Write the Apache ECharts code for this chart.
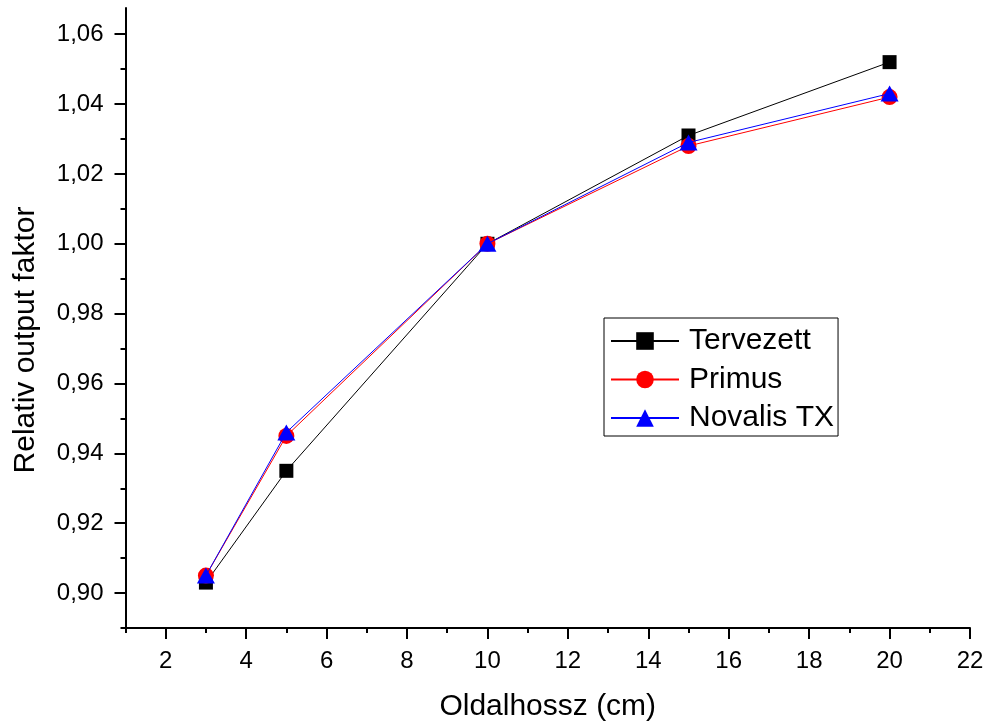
<!DOCTYPE html>
<html>
<head>
<meta charset="utf-8">
<script src="https://cdn.jsdelivr.net/npm/echarts@6/dist/echarts.min.js"></script>
<style>
  html, body { margin: 0; padding: 0; background: #fff; }
  #chart { width: 988px; height: 726px; }
</style>
</head>
<body>
<div id="chart"></div>
<script>
// Field side length (cm) and relative output factor for each machine
const fieldSizes = [3, 5, 10, 15, 20];
const tervezett = [0.903, 0.935, 1.000, 1.031, 1.052];
const primus    = [0.905, 0.945, 1.000, 1.028, 1.042];
const novalis   = [0.905, 0.946, 1.000, 1.029, 1.043];

const xMajorTicks = [2, 4, 6, 8, 10, 12, 14, 16, 18, 20, 22];
const xMinorTicks = [1, 3, 5, 7, 9, 11, 13, 15, 17, 19, 21];
const yMajorTicks = [0.90, 0.92, 0.94, 0.96, 0.98, 1.00, 1.02, 1.04, 1.06];
const yMinorTicks = [0.89, 0.91, 0.93, 0.95, 0.97, 0.99, 1.01, 1.03, 1.05];

const FONT = 'Liberation Sans, Arial, sans-serif';
const pairs = (xs, ys) => xs.map((x, i) => [x, ys[i]]);
const commaFmt = v => v.toFixed(2).replace('.', ',');

const chart = echarts.init(document.getElementById('chart'), null, { renderer: 'canvas' });

const axisLine = { show: true, lineStyle: { color: '#000', width: 2 } };

chart.setOption({
  animation: false,
  backgroundColor: '#fff',
  grid: { left: 125.5, right: 18, top: 8, bottom: 98, containLabel: false, outerBoundsMode: 'none' },
  xAxis: [
    {
      type: 'value', min: 1, max: 22,
      name: 'Oldalhossz (cm)', nameLocation: 'middle', nameGap: 64,
      nameTextStyle: { fontFamily: FONT, fontSize: 30, color: '#000' },
      axisLine,
      axisTick: { show: true, customValues: xMajorTicks, length: 11, lineStyle: { color: '#000', width: 2 } },
      axisLabel: { customValues: xMajorTicks, margin: 21, fontFamily: FONT, fontSize: 24, color: '#000' },
      splitLine: { show: false }
    },
    {
      type: 'value', min: 1, max: 22, position: 'bottom',
      axisLine: { show: false },
      axisTick: { show: true, customValues: xMinorTicks, length: 5, lineStyle: { color: '#000', width: 2 } },
      axisLabel: { show: false },
      splitLine: { show: false }
    }
  ],
  yAxis: [
    {
      type: 'value', min: 0.89, max: 1.0675,
      name: 'Relativ output faktor', nameLocation: 'middle', nameGap: 85, nameRotate: 90,
      nameTextStyle: { fontFamily: FONT, fontSize: 30, color: '#000', padding: [0, 44, 0, 0] },
      axisLine,
      axisTick: { show: true, customValues: yMajorTicks, length: 11, lineStyle: { color: '#000', width: 2 } },
      axisLabel: { customValues: yMajorTicks, margin: 22, formatter: commaFmt, fontFamily: FONT, fontSize: 24, color: '#000' },
      splitLine: { show: false }
    },
    {
      type: 'value', min: 0.89, max: 1.0675, position: 'left',
      axisLine: { show: false },
      axisTick: { show: true, customValues: yMinorTicks, length: 5, lineStyle: { color: '#000', width: 2 } },
      axisLabel: { show: false },
      splitLine: { show: false }
    }
  ],
  legend: {
    left: 604, top: 318, orient: 'vertical',
    borderColor: '#000', borderWidth: 1, padding: [8, 4, 3, 6],
    itemWidth: 68, itemHeight: 22, itemGap: 8.5,
    textStyle: { fontFamily: FONT, fontSize: 30, color: '#000', padding: [0, 0, 0, 5], lineHeight: 30 },
    data: ['Tervezett', 'Primus', 'Novalis TX']
  },
  series: [
    {
      name: 'Tervezett', type: 'line', data: pairs(fieldSizes, tervezett),
      symbol: 'rect', symbolSize: 14,
      lineStyle: { color: '#000', width: 1 }, itemStyle: { color: '#000' }, z: 2
    },
    {
      name: 'Primus', type: 'line', data: pairs(fieldSizes, primus),
      symbol: 'circle', symbolSize: 16,
      lineStyle: { color: '#ff0000', width: 1 }, itemStyle: { color: '#ff0000' }, z: 3
    },
    {
      name: 'Novalis TX', type: 'line', data: pairs(fieldSizes, novalis),
      symbol: 'triangle', symbolSize: [18, 16],
      lineStyle: { color: '#0000ff', width: 1 }, itemStyle: { color: '#0000ff' }, z: 4
    }
  ]
});
</script>
</body>
</html>
